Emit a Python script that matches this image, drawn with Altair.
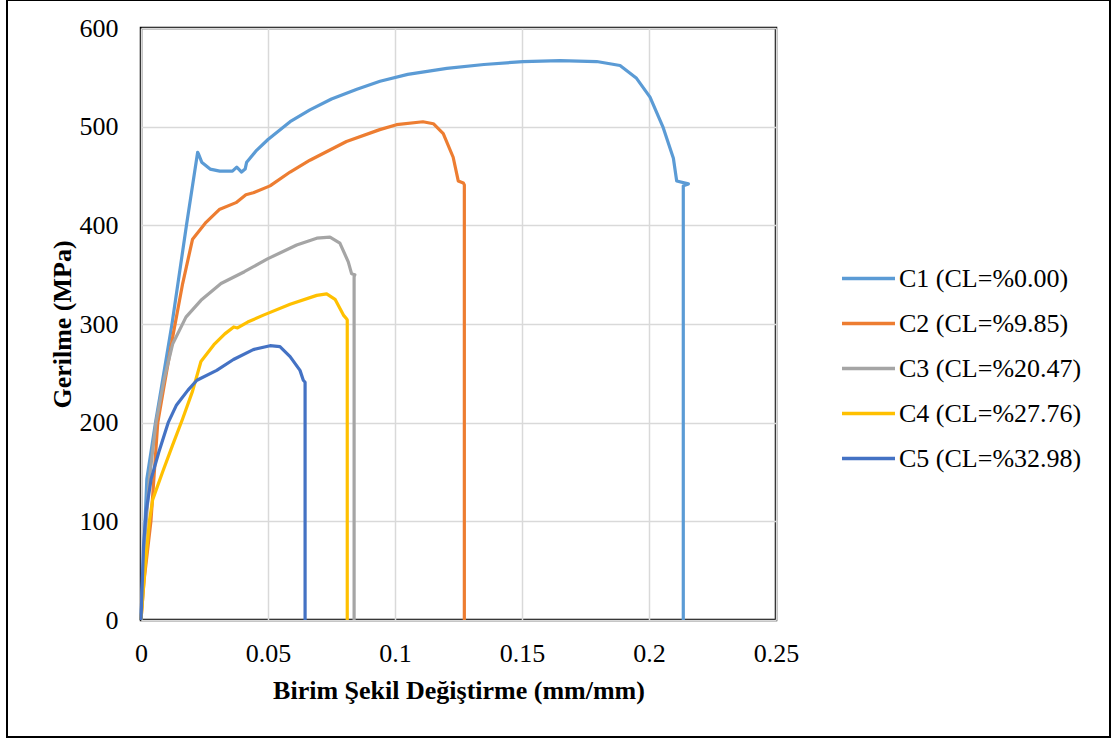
import altair as alt
import pandas as pd

series_names = ["C1 (CL=%0.00)", "C2 (CL=%9.85)", "C3 (CL=%20.47)", "C4 (CL=%27.76)", "C5 (CL=%32.98)"]
series_colors = ["#5B9BD5", "#ED7D31", "#A5A5A5", "#FFC000", "#4472C4"]

c1_strain = [0, 0.0023, 0.0057, 0.008, 0.0122, 0.0179, 0.0223, 0.0227, 0.0239, 0.0272, 0.031, 0.036, 0.0377, 0.0396,
             0.041, 0.0416, 0.0455, 0.05, 0.0587, 0.0665, 0.075, 0.085, 0.0941, 0.105, 0.1204, 0.135, 0.1504, 0.165,
             0.1794, 0.1886, 0.1951, 0.2004, 0.2056, 0.2096, 0.2109, 0.2155, 0.2135, 0.2135]
c1_stress = [0, 143, 200, 235, 300, 400, 474, 472, 464, 457, 455, 455, 459, 454,
             457, 464, 476, 487, 505, 517, 528, 538, 546, 553, 559, 563, 566, 567,
             566, 562, 549, 530, 499, 468, 445, 442, 440, 0]

c2_strain = [0, 0.0012, 0.0039, 0.0066, 0.0088, 0.0125, 0.0164, 0.0203, 0.0256, 0.0308, 0.0374, 0.0413, 0.0442,
             0.0508, 0.0587, 0.0665, 0.0809, 0.094, 0.1006, 0.111, 0.1151, 0.119, 0.1229, 0.1249, 0.1269, 0.1273, 0.1273]
c2_stress = [0, 40, 100, 200, 233, 287, 341, 386, 403, 416, 423, 431, 433,
             440, 454, 466, 485, 497, 502, 505, 503, 493, 469, 445, 443, 441, 0]

c3_strain = [0, 0.0015, 0.0033, 0.0059, 0.0092, 0.0125, 0.0177, 0.0236, 0.0315, 0.0407, 0.0498, 0.0613, 0.0692,
             0.0744, 0.0783, 0.0816, 0.0829, 0.0842, 0.0839, 0.0839]
c3_stress = [0, 80, 143, 200, 245, 280, 307, 324, 341, 353, 366, 380, 387,
             388, 382, 363, 351, 350, 348, 0]

c4_strain = [0, 0.0015, 0.0033, 0.0046, 0.0085, 0.0124, 0.0164, 0.0203, 0.0236, 0.0287, 0.033, 0.0365, 0.038,
             0.042, 0.0482, 0.0587, 0.0692, 0.0731, 0.0764, 0.0797, 0.081, 0.0812, 0.0812]
c4_stress = [0, 50, 100, 122, 150, 177, 204, 232, 262, 279, 290, 297, 296,
             302, 309, 320, 329, 330.5, 325, 309, 305, 304, 0]

c5_strain = [0, 0.001, 0.002, 0.004, 0.007, 0.0107, 0.014, 0.0185, 0.022, 0.0298, 0.0364, 0.0442, 0.0508,
             0.0547, 0.0587, 0.0626, 0.0639, 0.0646, 0.0646]
c5_stress = [0, 75, 110, 143, 170, 200, 218, 233, 243, 253, 264, 274, 278,
             277, 267, 253, 243, 241, 0]

x_ticks = [0, 0.05, 0.1, 0.15, 0.2, 0.25]
y_ticks = [0, 100, 200, 300, 400, 500, 600]

all_strain = [c1_strain, c2_strain, c3_strain, c4_strain, c5_strain]
all_stress = [c1_stress, c2_stress, c3_stress, c4_stress, c5_stress]

rows = []
for name, xs, ys in zip(series_names, all_strain, all_stress):
    for i, (xv, yv) in enumerate(zip(xs, ys)):
        rows.append({"series": name, "strain": xv, "stress": yv, "idx": i})
df = pd.DataFrame(rows)

FONT = "Liberation Serif"

lines = alt.Chart(df).mark_line(strokeWidth=3.2, strokeJoin="round").encode(
    x=alt.X("strain:Q",
            scale=alt.Scale(domain=[0, 0.25], nice=False, zero=False),
            axis=alt.Axis(values=x_ticks, format="~g", title="Birim Şekil Değiştirme (mm/mm)",
                          titleX=317.5, titleY=78, titleBaseline="alphabetic",
                          labelPadding=20, labelFlush=False)),
    y=alt.Y("stress:Q",
            scale=alt.Scale(domain=[0, 600], nice=False),
            axis=alt.Axis(values=y_ticks, title="Gerilme (MPa)",
                          titleX=-71, titleY=296, titleBaseline="alphabetic", titleAngle=270,
                          labelPadding=23, labelFlush=False)),
    color=alt.Color("series:N",
                    scale=alt.Scale(domain=series_names, range=series_colors),
                    legend=alt.Legend(title=None, orient="none", legendX=699, legendY=222,
                                      symbolType="stroke", symbolSize=2809, symbolStrokeWidth=3.5,
                                      labelFont=FONT, labelFontSize=26, labelColor="black",
                                      labelOffset=2, rowPadding=3, labelLimit=400)),
    order=alt.Order("idx:Q"),
)

border_df = pd.DataFrame({"k": [0]})
outer = alt.Chart(border_df).mark_rect(fill=None, stroke="black", strokeWidth=2).encode(
    x=alt.value(-134), x2=alt.value(969), y=alt.value(-28), y2=alt.value(709)
)

chart = alt.layer(lines, outer).properties(
    width=635, height=592,
    autosize=alt.AutoSizeParams(type="none"),
    padding={"left": 141, "top": 28, "right": 339, "bottom": 120},
    background="white",
).configure_view(
    stroke="black", strokeWidth=2.5
).configure_axis(
    labelFont=FONT, labelFontSize=26, labelColor="black",
    titleFont=FONT, titleFontSize=26, titleFontWeight="bold", titleColor="black",
    grid=True, gridColor="#D9D9D9", gridWidth=1.5,
    ticks=False, domain=False,
)

chart.save("out.html", embed_options={"renderer": "svg", "actions": False})
